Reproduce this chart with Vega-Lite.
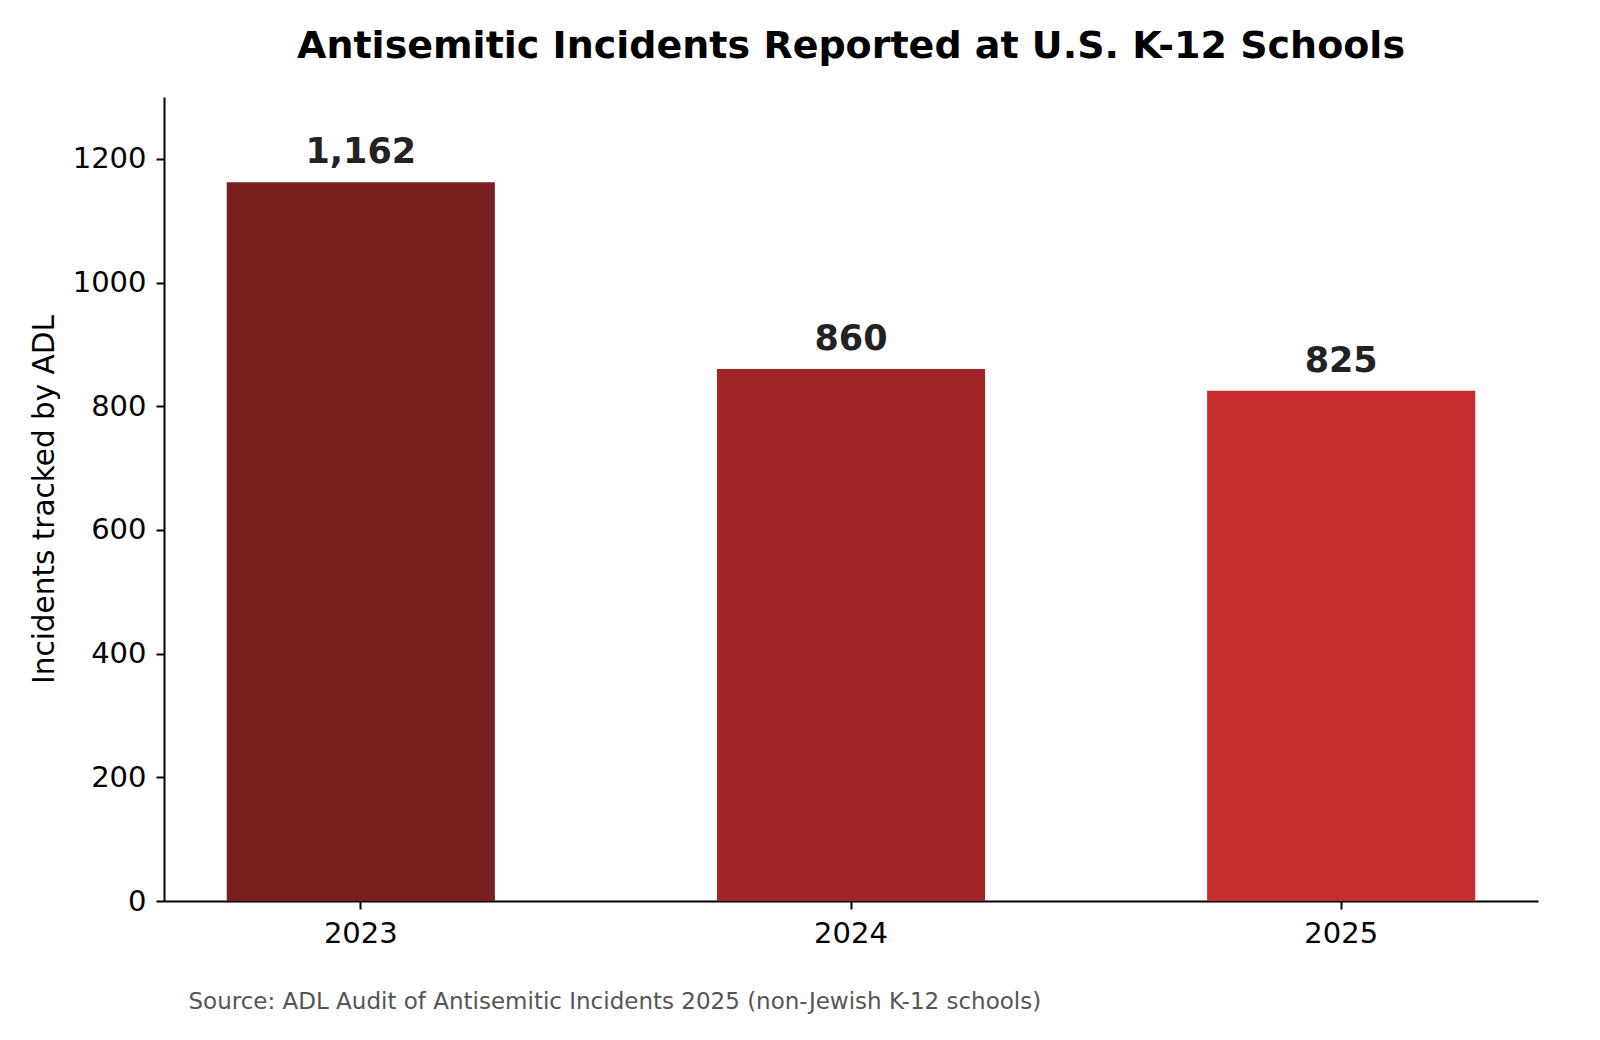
{
  "$schema": "https://vega.github.io/schema/vega-lite/v6.json",
  "width": 1374,
  "height": 804,
  "autosize": "none",
  "padding": {"left": 164, "top": 97, "right": 62, "bottom": 139},
  "background": "white",
  "title": {
    "text": "Antisemitic Incidents Reported at U.S. K-12 Schools",
    "font": "DejaVu Sans",
    "fontSize": 38,
    "fontWeight": "bold",
    "color": "black",
    "anchor": "middle",
    "offset": 31
  },
  "data": {
    "values": [
      {"year": "2023", "incidents": 1162},
      {"year": "2024", "incidents": 860},
      {"year": "2025", "incidents": 825}
    ]
  },
  "encoding": {
    "x": {
      "field": "year",
      "type": "nominal",
      "scale": {"paddingInner": 0.453, "paddingOuter": 0.128},
      "axis": {
        "labelAngle": 0,
        "title": "Source: ADL Audit of Antisemitic Incidents 2025 (non-Jewish K-12 schools)",
        "titleAnchor": "start",
        "titleAlign": "left",
        "titleX": 24,
        "titleY": 107,
        "titleBaseline": "alphabetic",
        "titleFont": "DejaVu Sans",
        "titleFontSize": 23,
        "titleFontWeight": "normal",
        "titleColor": "#555555"
      }
    },
    "y": {
      "field": "incidents",
      "type": "quantitative",
      "scale": {"domain": [0, 1300], "nice": false},
      "axis": {
        "values": [0, 200, 400, 600, 800, 1000, 1200],
        "format": "d",
        "title": "Incidents tracked by ADL",
        "titleFont": "DejaVu Sans",
        "titleFontSize": 29.5,
        "titleFontWeight": "normal",
        "titleColor": "black",
        "titlePadding": 13,
        "grid": false
      }
    }
  },
  "layer": [
    {
      "mark": {"type": "bar"},
      "encoding": {
        "color": {
          "field": "year",
          "type": "nominal",
          "scale": {"domain": ["2023", "2024", "2025"], "range": ["#7a1f20", "#a02527", "#c62d2f"]},
          "legend": null
        }
      }
    },
    {
      "mark": {"type": "text", "baseline": "alphabetic", "dy": -19, "font": "DejaVu Sans", "fontSize": 35, "fontWeight": "bold", "color": "#222222"},
      "encoding": {
        "text": {"field": "incidents", "type": "quantitative", "format": ","}
      }
    }
  ],
  "config": {
    "view": {"stroke": null},
    "axis": {
      "labelFont": "DejaVu Sans",
      "labelFontSize": 29,
      "labelColor": "black",
      "labelPadding": 10,
      "domainColor": "black",
      "domainWidth": 2,
      "tickColor": "black",
      "tickWidth": 2,
      "tickSize": 8
    }
  }
}
